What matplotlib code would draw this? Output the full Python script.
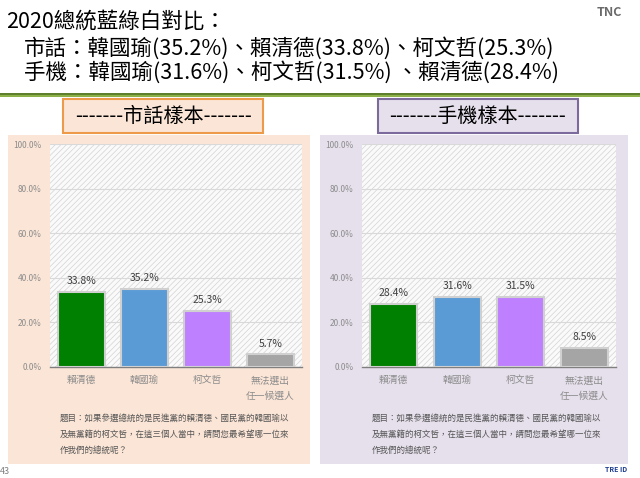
import matplotlib.pyplot as plt
from matplotlib.patches import Rectangle

plt.rcParams['font.family'] = ['Noto Sans CJK TC', 'DejaVu Sans']
plt.rcParams['hatch.linewidth'] = 0.5

W, H = 640, 478

title_lines = ["2020總統藍綠白對比：",
               "市話：韓國瑜(35.2%)、賴清德(33.8%)、柯文哲(25.3%)",
               "手機：韓國瑜(31.6%)、柯文哲(31.5%) 、賴清德(28.4%)"]

candidates = ["賴清德", "韓國瑜", "柯文哲", "無法選出\n任一候選人"]
landline = [33.8, 35.2, 25.3, 5.7]
mobile = [28.4, 31.6, 31.5, 8.5]
bar_colors = ["#008000", "#5B9BD5", "#BF80FF", "#A5A5A5"]
yticks = [0, 20, 40, 60, 80, 100]
question = ("題目：如果參選總統的是民進黨的賴清德、國民黨的韓國瑜以\n"
            "及無黨籍的柯文哲，在這三個人當中，請問您最希望哪一位來\n"
            "作我們的總統呢？")

fig = plt.figure(figsize=(6.4, 4.78), dpi=100)
fig.patch.set_facecolor("white")


def px_rect(x0, y0, x1, y1, **kw):
    # rectangle given in pixel coords, y from top
    r = Rectangle((x0 / W, 1 - y1 / H), (x1 - x0) / W, (y1 - y0) / H,
                  transform=fig.transFigure, zorder=-5, **kw)
    fig.add_artist(r)
    return r


def px_text(x, y, s, **kw):
    return fig.text(x / W, 1 - y / H, s, **kw)


# header
px_text(6, 22, title_lines[0], fontsize=15.5, va="center", color="black")
px_text(24, 48, title_lines[1], fontsize=15.5, va="center", color="black")
px_text(24, 72, title_lines[2], fontsize=15.5, va="center", color="black")
px_text(622, 12, "TNC", fontsize=9, ha="right", va="center",
        color="#6a6a6a", fontweight="bold", fontstyle="italic")
px_rect(0, 92.5, W, 94.5, facecolor="#5E7F2E", edgecolor="none")
px_rect(0, 94.5, W, 97, facecolor="#8DB04A", edgecolor="none")

panels = [
    dict(x0=8, x1=310, plot=(50, 302), bg="#FBE5D6", box=(63, 263),
         boxfill="#FBE5D6", boxedge="#ED9B4B", name="-------市話樣本-------",
         vals=landline),
    dict(x0=320, x1=628, plot=(362, 616), bg="#E6E0EC", box=(378, 578),
         boxfill="#E6E0EC", boxedge="#7C6A9C", name="-------手機樣本-------",
         vals=mobile),
]

for p in panels:
    px_rect(p["x0"], 135, p["x1"], 464, facecolor=p["bg"], edgecolor="none")
    bx0, bx1 = p["box"]
    px_rect(bx0, 99, bx1, 133, facecolor=p["boxfill"], edgecolor=p["boxedge"],
            linewidth=1.5)
    px_text((bx0 + bx1) / 2, 116, p["name"], fontsize=14.5, ha="center",
            va="center", color="black")

    lx, rx = p["plot"]
    ax = fig.add_axes([lx / W, 1 - 367 / H, (rx - lx) / W, 223 / H])
    ax.set_facecolor("white")
    ax.add_patch(Rectangle((0, 0), 1, 1, transform=ax.transAxes,
                           facecolor="#FAFAFA", edgecolor="#D3D3D3",
                           hatch="//////", linewidth=0.01, zorder=0.5))
    x = range(len(candidates))
    ax.bar(x, p["vals"], width=0.74, color=bar_colors,
           edgecolor="#D0D0D0", linewidth=1.5, zorder=3)
    for xi, v in zip(x, p["vals"]):
        ax.text(xi, v + 2.5, f"{v:.1f}%", ha="center", va="bottom",
                fontsize=7.5, color="#404040", zorder=4)
    ax.set_ylim(0, 100)
    ax.set_xlim(-0.5, 3.5)
    ax.set_yticks(yticks)
    ax.set_yticklabels([f"{t:.1f}%" for t in yticks], fontsize=6,
                       color="#8C8C8C")
    ax.yaxis.grid(True, color="#D9D9D9", linewidth=0.8, zorder=1)
    ax.set_xticks(list(x))
    ax.set_xticklabels(candidates, fontsize=7, color="#8C8C8C",
                       linespacing=1.7, va="top")
    ax.tick_params(length=0, pad=6)
    for s in ["top", "right", "left"]:
        ax.spines[s].set_visible(False)
    ax.spines["bottom"].set_color("#7F7F7F")
    ax.spines["bottom"].set_linewidth(1)

    px_text(lx + 10, 434, question, fontsize=6.1, ha="left", va="center",
            color="#555555", linespacing=2.0)

px_text(0, 472, "43", fontsize=6.5, va="center", color="#808080")
px_text(616, 470, "TRE ID", fontsize=5, ha="center", va="center",
        color="#1F3F8F", fontweight="bold", fontstyle="italic")

fig.savefig("out.png", dpi=100, facecolor="white")
